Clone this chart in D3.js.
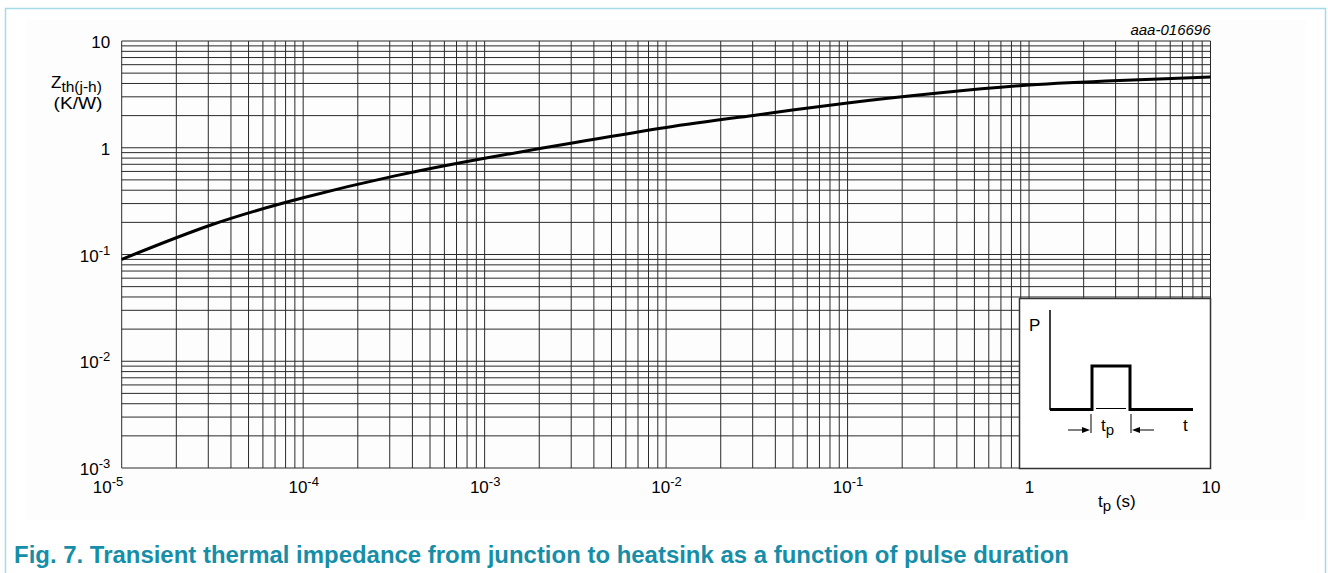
<!DOCTYPE html>
<html>
<head>
<meta charset="utf-8">
<script src="https://cdn.jsdelivr.net/npm/d3@7"></script>
<style>
  html, body { margin: 0; padding: 0; background: #fff; }
  svg { display: block; font-family: "Liberation Sans", Arial, sans-serif; }
</style>
</head>
<body>
<svg id="chart" width="1328" height="573"></svg>
<script>
// ---- data ----
const pulseDuration = [1e-5, 3.16e-5, 1e-4, 3.16e-4, 1e-3, 3.16e-3, 1e-2, 3.16e-2, 1e-1, 3.16e-1, 1, 3.16, 10];
const zthValues     = [0.090, 0.191, 0.340, 0.542, 0.797, 1.12, 1.55, 2.03, 2.63, 3.26, 3.87, 4.27, 4.60];

const xMajorTicks = [1e-5, 1e-4, 1e-3, 1e-2, 1e-1, 1, 10];
const xTickBase   = ["10", "10", "10", "10", "10", "1", "10"];
const xTickExp    = ["-5", "-4", "-3", "-2", "-1", "", ""];
const yMajorTicks = [1e-3, 1e-2, 1e-1, 1, 10];
const yTickBase   = ["10", "10", "10", "1", "10"];
const yTickExp    = ["-3", "-2", "-1", "", ""];

const captionText = "Fig. 7. Transient thermal impedance from junction to heatsink as a function of pulse duration";
const figureId = "aaa-016696";

// ---- layout ----
const svg = d3.select("#chart");
const L = 121.7, R = 1210.5, T = 41, B = 468;

const x = d3.scaleLog().domain([1e-5, 10]).range([L, R]);
const y = d3.scaleLog().domain([1e-3, 10]).range([B, T]);

// frame
svg.append("rect").attr("x", 5.5).attr("y", 8.5).attr("width", 1320).attr("height", 600)
  .attr("fill", "#fff").attr("stroke", "#a6dbe5").attr("stroke-width", 1.5);
svg.append("rect").attr("x", 26).attr("y", 20).attr("width", 1280).attr("height", 500)
  .attr("fill", "#fdfdfd");

// minor/major grid values
function logGrid(lo, hi) {
  const out = [];
  for (let e = lo; e < hi; e++) for (let m = 1; m <= 9; m++) out.push(m * Math.pow(10, e));
  out.push(Math.pow(10, hi));
  return out;
}
const xGrid = logGrid(-5, 1);
const yGrid = logGrid(-3, 1);

const grid = svg.append("g").attr("stroke", "#2a2a2a").attr("stroke-width", 1).attr("fill", "none");
grid.selectAll("line.v").data(xGrid).join("line").attr("class", "v")
  .attr("x1", d => x(d)).attr("x2", d => x(d)).attr("y1", T).attr("y2", B);
grid.selectAll("line.h").data(yGrid).join("line").attr("class", "h")
  .attr("x1", L).attr("x2", R).attr("y1", d => y(d)).attr("y2", d => y(d));

// curve
const line = d3.line().x(d => x(d[0])).y(d => y(d[1])).curve(d3.curveNatural);
svg.append("path").datum(d3.zip(pulseDuration, zthValues))
  .attr("d", line).attr("fill", "none").attr("stroke", "#000").attr("stroke-width", 3)
  .attr("stroke-linejoin", "round");

// axes (labels only)
const FS = 17;
const xAxis = d3.axisBottom(x).tickValues(xMajorTicks).tickSize(0).tickFormat(() => "");
const gx = svg.append("g").attr("transform", `translate(0,${B})`).call(xAxis);
gx.select(".domain").remove();
gx.selectAll(".tick text").each(function(d, i) {
  const t = d3.select(this).attr("y", 25).attr("dy", 0).attr("font-size", FS)
    .attr("fill", "#000").attr("font-family", "Liberation Sans, Arial, sans-serif")
    .attr("text-anchor", i === 0 ? "end" : "middle");
  if (i === 0) t.attr("x", 1);
  t.append("tspan").text(xTickBase[i]);
  if (xTickExp[i]) t.append("tspan").attr("font-size", 13).attr("dy", -7).text(xTickExp[i]);
});

const yAxis = d3.axisLeft(y).tickValues(yMajorTicks).tickSize(0).tickFormat(() => "");
const gy = svg.append("g").attr("transform", `translate(${L},0)`).call(yAxis);
gy.select(".domain").remove();
gy.selectAll(".tick text").each(function(d, i) {
  const t = d3.select(this).attr("x", -11.5).attr("dy", 0).attr("y", 6.5).attr("font-size", FS)
    .attr("fill", "#000").attr("font-family", "Liberation Sans, Arial, sans-serif")
    .attr("text-anchor", "end");
  t.append("tspan").text(yTickBase[i]);
  if (yTickExp[i]) t.append("tspan").attr("font-size", 13).attr("dy", -7).text(yTickExp[i]);
});

// axis titles
const yt = svg.append("text").attr("x", 51).attr("y", 87.5).attr("font-size", 17).attr("fill", "#000");
yt.append("tspan").text("Z");
yt.append("tspan").attr("font-size", 15.5).attr("dy", 4).text("th(j-h)");
svg.append("text").attr("x", 78).attr("y", 109).attr("text-anchor", "middle")
  .attr("font-size", 17).attr("fill", "#000").attr("textLength", 49).attr("lengthAdjust", "spacingAndGlyphs")
  .text("(K/W)");

const xt = svg.append("text").attr("x", 1098).attr("y", 507).attr("font-size", 17).attr("fill", "#000");
xt.append("tspan").text("t");
xt.append("tspan").attr("font-size", 15).attr("dy", 4).text("p");
xt.append("tspan").attr("dy", -4).text(" (s)");

svg.append("text").attr("x", R).attr("y", 35).attr("text-anchor", "end")
  .attr("font-size", 15).attr("font-style", "italic").attr("fill", "#000").text(figureId);

// inset pulse diagram
const ins = svg.append("g");
ins.append("rect").attr("x", 1019.5).attr("y", 298.5).attr("width", 191).attr("height", 170)
  .attr("fill", "#fff").attr("stroke", "#333").attr("stroke-width", 1.5);
ins.append("text").attr("x", 1029).attr("y", 331).attr("font-size", 17).attr("fill", "#000").text("P");
ins.append("line").attr("x1", 1050).attr("x2", 1050).attr("y1", 310).attr("y2", 410)
  .attr("stroke", "#000").attr("stroke-width", 1.5);
ins.append("path").attr("d", "M1050,409.5H1092V366H1130V409.5H1193")
  .attr("fill", "none").attr("stroke", "#000").attr("stroke-width", 3);
ins.append("line").attr("x1", 1096).attr("x2", 1126).attr("y1", 408.5).attr("y2", 408.5)
  .attr("stroke", "#000").attr("stroke-width", 1);
ins.append("line").attr("x1", 1091).attr("x2", 1091).attr("y1", 414).attr("y2", 433)
  .attr("stroke", "#000").attr("stroke-width", 1);
ins.append("line").attr("x1", 1131).attr("x2", 1131).attr("y1", 414).attr("y2", 433)
  .attr("stroke", "#000").attr("stroke-width", 1);
ins.append("line").attr("x1", 1068).attr("x2", 1083).attr("y1", 430).attr("y2", 430)
  .attr("stroke", "#000").attr("stroke-width", 1);
ins.append("path").attr("d", "M1090,430L1082,427V433Z").attr("fill", "#000");
ins.append("line").attr("x1", 1140).attr("x2", 1154).attr("y1", 430).attr("y2", 430)
  .attr("stroke", "#000").attr("stroke-width", 1);
ins.append("path").attr("d", "M1132,430L1140,427V433Z").attr("fill", "#000");
const tp = ins.append("text").attr("x", 1101).attr("y", 431).attr("font-size", 17).attr("fill", "#000");
tp.append("tspan").text("t");
tp.append("tspan").attr("font-size", 15).attr("dy", 4).text("p");
ins.append("text").attr("x", 1183).attr("y", 431).attr("font-size", 17).attr("fill", "#000").text("t");

// caption
svg.append("text").attr("x", 14).attr("y", 562.5).attr("font-size", 23).attr("font-weight", "bold")
  .attr("fill", "#168ea8").attr("textLength", 1055).attr("lengthAdjust", "spacingAndGlyphs")
  .text(captionText);
</script>
</body>
</html>
